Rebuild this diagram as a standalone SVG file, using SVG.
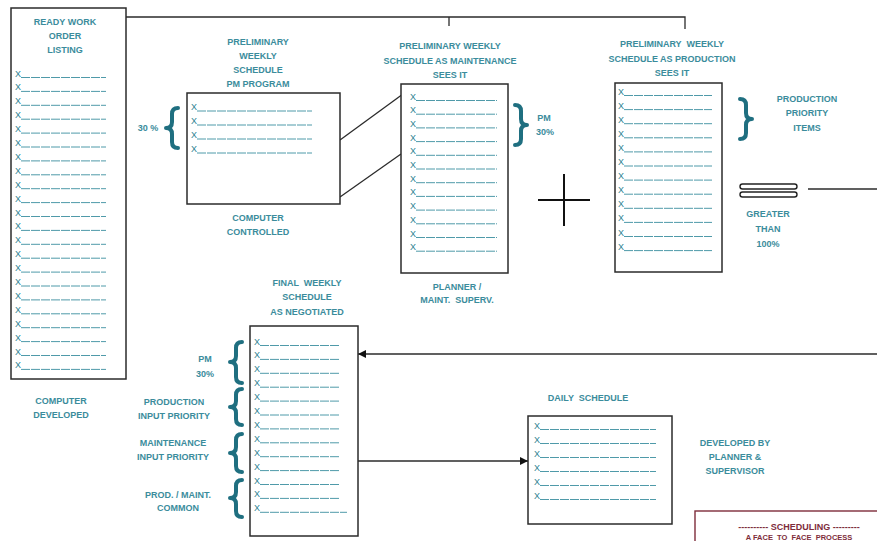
<svg xmlns="http://www.w3.org/2000/svg" xmlns:xlink="http://www.w3.org/1999/xlink" width="877" height="541" viewBox="0 0 877 541">
  <style>
    .box { fill: #ffffff; stroke: #2b2b2b; stroke-width: 1.5; }
    .lbl { font-family: "Liberation Sans", Arial, sans-serif; font-size: 9px; font-weight: bold; fill: #3b8c9c; text-anchor: middle; white-space: pre; }
    .x { font-family: "Liberation Sans", Arial, sans-serif; font-size: 9px; fill: #2a7f90; }
    .u { stroke: #4f9aa9; stroke-width: 1; stroke-dasharray: 9 1; }
    .brace { fill: none; stroke: #1f6f80; stroke-width: 4; stroke-linecap: round; stroke-linejoin: round; }
    .wire { fill: none; stroke: #2b2b2b; stroke-width: 1.3; }
    .red { font-family: "Liberation Sans", Arial, sans-serif; font-weight: bold; fill: #7e2d3b; text-anchor: middle; white-space: pre; }
  </style>
  <defs>
    <marker id="arrow" viewBox="0 0 10 10" refX="10" refY="5" markerWidth="8" markerHeight="8" markerUnits="userSpaceOnUse" orient="auto">
      <path d="M0,0 L10,5 L0,10 z" fill="#111111"/>
    </marker>
    <!-- list rows: "X" followed by a dashed blank line -->
    <g id="rowA"><text class="x" x="0" y="0">X</text><line class="u" x1="6" y1="1" x2="91" y2="1"/></g>
    <g id="rowB"><text class="x" x="0" y="0">X</text><line class="u" x1="6" y1="1" x2="121" y2="1"/></g>
    <g id="rowC"><text class="x" x="0" y="0">X</text><line class="u" x1="6" y1="1" x2="87" y2="1"/></g>
    <g id="rowD"><text class="x" x="0" y="0">X</text><line class="u" x1="6" y1="1" x2="94" y2="1"/></g>
    <g id="rowE"><text class="x" x="0" y="0">X</text><line class="u" x1="6" y1="1" x2="86" y2="1"/></g>
    <g id="rowF"><text class="x" x="0" y="0">X</text><line class="u" x1="6" y1="1" x2="122" y2="1"/></g>
  </defs>

  <rect width="877" height="541" fill="#ffffff"/>

  <!-- connectors -->
  <g id="connectors">
    <polyline class="wire" points="126,17 685,17 685,29"/>
    <line class="wire" x1="449" y1="17" x2="449" y2="26"/>
    <line class="wire" x1="340" y1="140" x2="403" y2="94"/>
    <line class="wire" x1="340" y1="197" x2="401" y2="154"/>
    <line class="wire" x1="808" y1="189" x2="877" y2="189"/>
    <line class="wire" x1="877" y1="354" x2="358" y2="354" marker-end="url(#arrow)"/>
    <line class="wire" x1="357" y1="461" x2="528" y2="461" marker-end="url(#arrow)"/>
  </g>

  <!-- ready work order listing -->
  <g id="ready-list">
    <rect class="box" x="11" y="8" width="115" height="371"/>
    <text class="lbl" x="65" y="25">READY WORK</text>
    <text class="lbl" x="65" y="39">ORDER</text>
    <text class="lbl" x="65" y="53">LISTING</text>
    <use xlink:href="#rowA" x="15" y="76.5"/>
    <use xlink:href="#rowA" x="15" y="90.4"/>
    <use xlink:href="#rowA" x="15" y="104.3"/>
    <use xlink:href="#rowA" x="15" y="118.2"/>
    <use xlink:href="#rowA" x="15" y="132.1"/>
    <use xlink:href="#rowA" x="15" y="146"/>
    <use xlink:href="#rowA" x="15" y="159.9"/>
    <use xlink:href="#rowA" x="15" y="173.8"/>
    <use xlink:href="#rowA" x="15" y="187.7"/>
    <use xlink:href="#rowA" x="15" y="201.6"/>
    <use xlink:href="#rowA" x="15" y="215.5"/>
    <use xlink:href="#rowA" x="15" y="229.4"/>
    <use xlink:href="#rowA" x="15" y="243.3"/>
    <use xlink:href="#rowA" x="15" y="257.2"/>
    <use xlink:href="#rowA" x="15" y="271.1"/>
    <use xlink:href="#rowA" x="15" y="285"/>
    <use xlink:href="#rowA" x="15" y="298.9"/>
    <use xlink:href="#rowA" x="15" y="312.8"/>
    <use xlink:href="#rowA" x="15" y="326.7"/>
    <use xlink:href="#rowA" x="15" y="340.6"/>
    <use xlink:href="#rowA" x="15" y="354.5"/>
    <use xlink:href="#rowA" x="15" y="368.4"/>
    <text class="lbl" x="61" y="404">COMPUTER</text>
    <text class="lbl" x="61" y="418">DEVELOPED</text>
  </g>

  <!-- preliminary weekly schedule, PM program -->
  <g id="pm-program">
    <text class="lbl" x="258" y="45">PRELIMINARY</text>
    <text class="lbl" x="258" y="59">WEEKLY</text>
    <text class="lbl" x="258" y="73">SCHEDULE</text>
    <text class="lbl" x="258" y="87">PM PROGRAM</text>
    <rect class="box" x="187" y="93" width="153" height="111"/>
    <use xlink:href="#rowB" x="191" y="110"/>
    <use xlink:href="#rowB" x="191" y="124"/>
    <use xlink:href="#rowB" x="191" y="138"/>
    <use xlink:href="#rowB" x="191" y="152"/>
    <text class="lbl" x="148" y="131">30 %</text>
    <path class="brace" d="M178,108 Q172,108 172,114 L172,122 Q172,128 166,128 Q172,128 172,134 L172,142 Q172,148 178,148"/>
    <text class="lbl" x="258" y="221">COMPUTER</text>
    <text class="lbl" x="258" y="235">CONTROLLED</text>
  </g>

  <!-- preliminary weekly schedule as maintenance sees it -->
  <g id="maintenance-view">
    <text class="lbl" x="450" y="49">PRELIMINARY WEEKLY</text>
    <text class="lbl" x="450" y="64">SCHEDULE AS MAINTENANCE</text>
    <text class="lbl" x="450" y="78">SEES IT</text>
    <rect class="box" x="401" y="84" width="107" height="189"/>
    <use xlink:href="#rowC" x="410" y="99.5"/>
    <use xlink:href="#rowC" x="410" y="113.2"/>
    <use xlink:href="#rowC" x="410" y="126.9"/>
    <use xlink:href="#rowC" x="410" y="140.6"/>
    <use xlink:href="#rowC" x="410" y="154.3"/>
    <use xlink:href="#rowC" x="410" y="168"/>
    <use xlink:href="#rowC" x="410" y="181.7"/>
    <use xlink:href="#rowC" x="410" y="195.4"/>
    <use xlink:href="#rowC" x="410" y="209.1"/>
    <use xlink:href="#rowC" x="410" y="222.8"/>
    <use xlink:href="#rowC" x="410" y="236.5"/>
    <use xlink:href="#rowC" x="410" y="250.2"/>
    <path class="brace" d="M515,105 Q521,105 521,111 L521,119 Q521,125 527,125 Q521,125 521,131 L521,139 Q521,145 515,145"/>
    <text class="lbl" x="544" y="121">PM</text>
    <text class="lbl" x="545" y="135">30%</text>
    <text class="lbl" x="457" y="290">PLANNER /</text>
    <text class="lbl" x="457" y="303">MAINT.  SUPERV.</text>
  </g>

  <!-- plus sign -->
  <g id="plus">
    <line x1="538" y1="200" x2="590" y2="200" stroke="#111111" stroke-width="2"/>
    <line x1="564" y1="174" x2="564" y2="226" stroke="#111111" stroke-width="2"/>
  </g>

  <!-- preliminary weekly schedule as production sees it -->
  <g id="production-view">
    <text class="lbl" x="672" y="47">PRELIMINARY  WEEKLY</text>
    <text class="lbl" x="672" y="62">SCHEDULE AS PRODUCTION</text>
    <text class="lbl" x="672" y="76">SEES IT</text>
    <rect class="box" x="615" y="83" width="107" height="189"/>
    <use xlink:href="#rowD" x="618" y="94.5"/>
    <use xlink:href="#rowD" x="618" y="108.6"/>
    <use xlink:href="#rowD" x="618" y="122.7"/>
    <use xlink:href="#rowD" x="618" y="136.8"/>
    <use xlink:href="#rowD" x="618" y="150.9"/>
    <use xlink:href="#rowD" x="618" y="165"/>
    <use xlink:href="#rowD" x="618" y="179.1"/>
    <use xlink:href="#rowD" x="618" y="193.2"/>
    <use xlink:href="#rowD" x="618" y="207.3"/>
    <use xlink:href="#rowD" x="618" y="221.4"/>
    <use xlink:href="#rowD" x="618" y="235.5"/>
    <use xlink:href="#rowD" x="618" y="249.6"/>
    <path class="brace" d="M740,99 Q746,99 746,105 L746,113 Q746,119 752,119 Q746,119 746,125 L746,133 Q746,139 740,139"/>
    <text class="lbl" x="807" y="102">PRODUCTION</text>
    <text class="lbl" x="807" y="116">PRIORITY</text>
    <text class="lbl" x="807" y="131">ITEMS</text>
  </g>

  <!-- equals sign -->
  <g id="equals">
    <rect x="740" y="184" width="57" height="5" rx="2.5" fill="#ffffff" stroke="#222222" stroke-width="1.4"/>
    <rect x="740" y="192" width="57" height="5" rx="2.5" fill="#ffffff" stroke="#222222" stroke-width="1.4"/>
    <text class="lbl" x="768" y="217">GREATER</text>
    <text class="lbl" x="768" y="232">THAN</text>
    <text class="lbl" x="768" y="247">100%</text>
  </g>

  <!-- final weekly schedule as negotiated -->
  <g id="final-schedule">
    <text class="lbl" x="307" y="286">FINAL  WEEKLY</text>
    <text class="lbl" x="307" y="300">SCHEDULE</text>
    <text class="lbl" x="307" y="315">AS NEGOTIATED</text>
    <rect class="box" x="250" y="326" width="108" height="210"/>
    <use xlink:href="#rowE" x="254" y="344.5"/>
    <use xlink:href="#rowE" x="254" y="358.4"/>
    <use xlink:href="#rowE" x="254" y="372.3"/>
    <use xlink:href="#rowE" x="254" y="386.2"/>
    <use xlink:href="#rowE" x="254" y="400.1"/>
    <use xlink:href="#rowE" x="254" y="414"/>
    <use xlink:href="#rowE" x="254" y="427.9"/>
    <use xlink:href="#rowE" x="254" y="441.8"/>
    <use xlink:href="#rowE" x="254" y="455.7"/>
    <use xlink:href="#rowE" x="254" y="469.6"/>
    <use xlink:href="#rowE" x="254" y="483.5"/>
    <use xlink:href="#rowE" x="254" y="497.4"/>
    <g transform="translate(254 511.3)"><text class="x" x="0" y="0">X</text><line class="u" x1="6" y1="1" x2="93" y2="1"/></g>
    <path class="brace" d="M242,342 Q236,342 236,348 L236,356 Q236,362 230,362 Q236,362 236,368 L236,377 Q236,383 242,383"/>
    <path class="brace" d="M242,389 Q236,389 236,395 L236,401 Q236,407 230,407 Q236,407 236,413 L236,419 Q236,425 242,425"/>
    <path class="brace" d="M242,434 Q236,434 236,440 L236,447 Q236,453 230,453 Q236,453 236,459 L236,466 Q236,472 242,472"/>
    <path class="brace" d="M242,480 Q236,480 236,486 L236,492 Q236,498 230,498 Q236,498 236,504 L236,511 Q236,517 242,517"/>
    <text class="lbl" x="205" y="362">PM</text>
    <text class="lbl" x="205" y="377">30%</text>
    <text class="lbl" x="174" y="405">PRODUCTION</text>
    <text class="lbl" x="174" y="419">INPUT PRIORITY</text>
    <text class="lbl" x="173" y="446">MAINTENANCE</text>
    <text class="lbl" x="173" y="460">INPUT PRIORITY</text>
    <text class="lbl" x="178" y="498">PROD. / MAINT.</text>
    <text class="lbl" x="178" y="511">COMMON</text>
  </g>

  <!-- daily schedule -->
  <g id="daily-schedule">
    <text class="lbl" x="588" y="401">DAILY  SCHEDULE</text>
    <rect class="box" x="528" y="416" width="144" height="108"/>
    <use xlink:href="#rowF" x="534" y="428.5"/>
    <use xlink:href="#rowF" x="534" y="442.5"/>
    <use xlink:href="#rowF" x="534" y="456.5"/>
    <use xlink:href="#rowF" x="534" y="470.5"/>
    <use xlink:href="#rowF" x="534" y="484.5"/>
    <use xlink:href="#rowF" x="534" y="498.5"/>
    <text class="lbl" x="735" y="446">DEVELOPED BY</text>
    <text class="lbl" x="735" y="460">PLANNER &amp;</text>
    <text class="lbl" x="735" y="474">SUPERVISOR</text>
  </g>

  <!-- scheduling note -->
  <g id="scheduling-note">
    <rect x="695" y="511" width="195" height="45" fill="#ffffff" stroke="#7e2d3b" stroke-width="1.4"/>
    <text class="red" x="799" y="530" font-size="9">---------- SCHEDULING ---------</text>
    <text class="red" x="799" y="540" font-size="7.5">A FACE  TO  FACE  PROCESS</text>
  </g>
</svg>
